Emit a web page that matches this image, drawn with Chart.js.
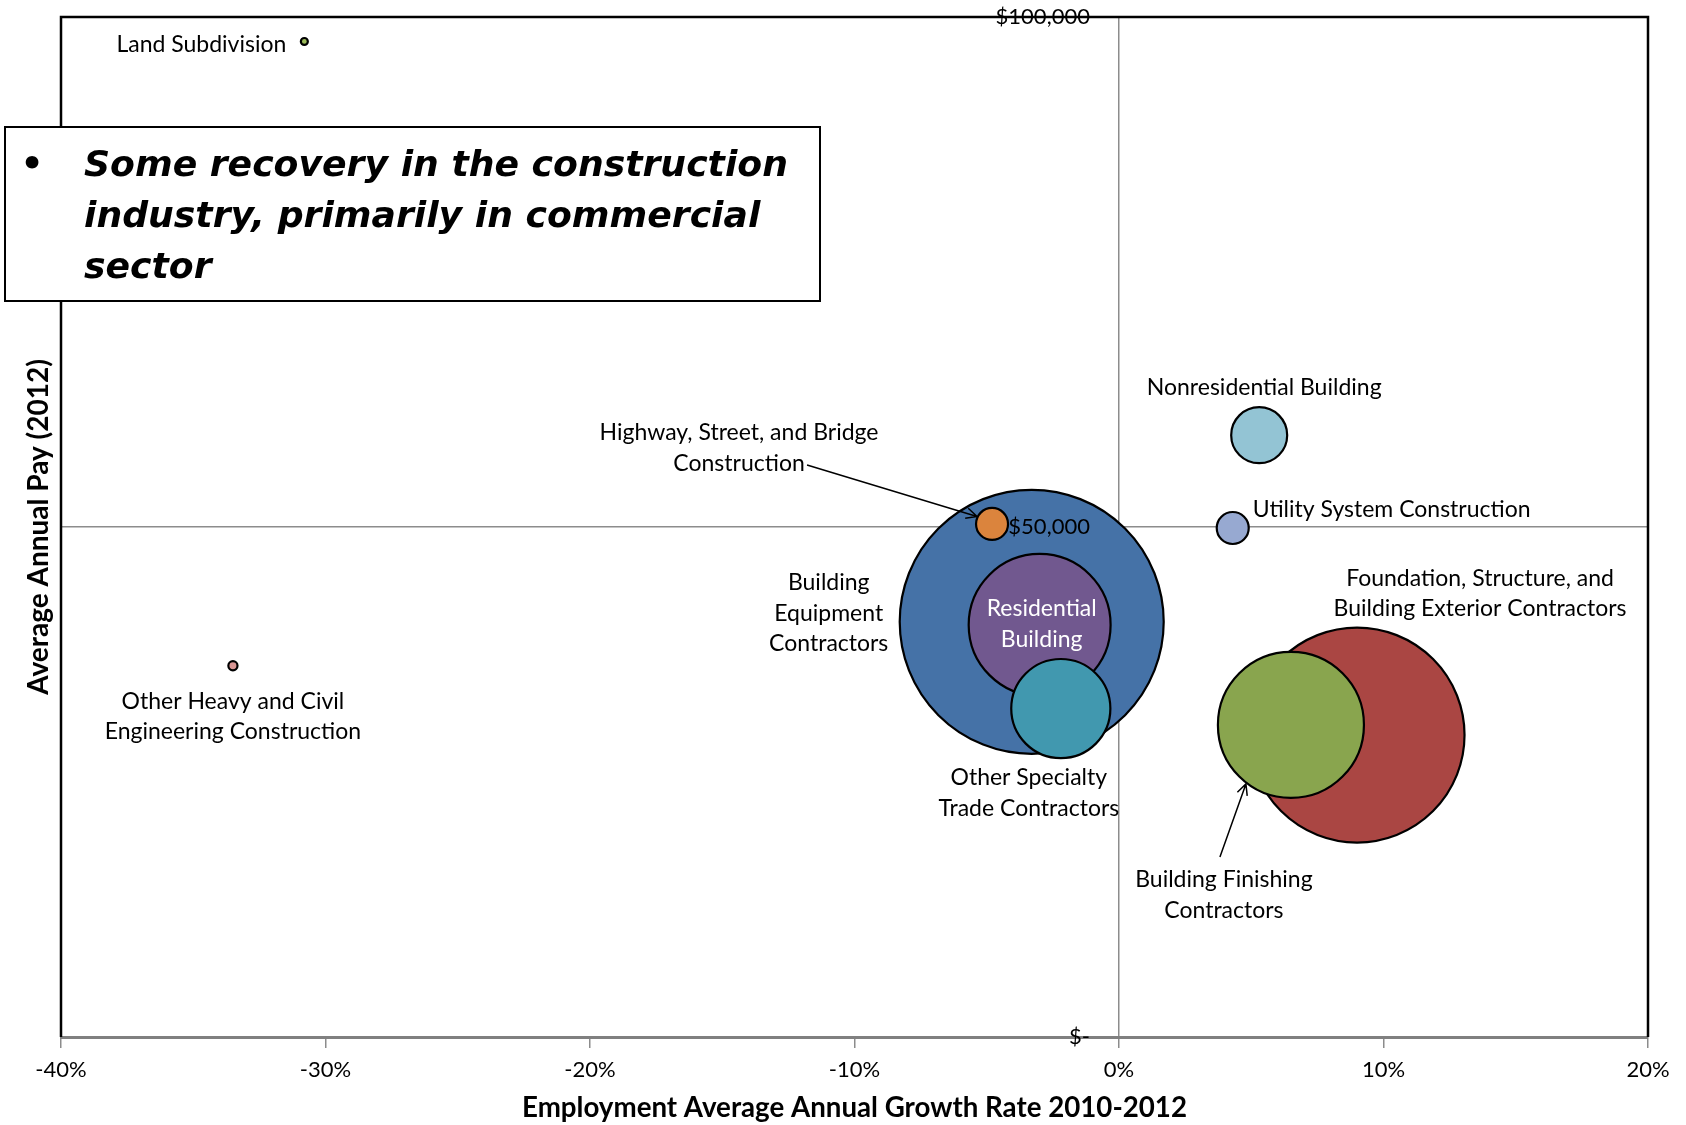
<!DOCTYPE html>
<html>
<head>
<meta charset="utf-8">
<script src="https://cdn.jsdelivr.net/npm/chart.js@4.4.1/dist/chart.umd.min.js"></script>
<style>
  html, body { margin: 0; padding: 0; background: #fff; }
  #wrap { width: 1686px; height: 1125px; }
</style>
</head>
<body>
<div id="wrap"><canvas id="chart" width="1686" height="1125"></canvas></div>
<script>
// Industries, in draw order (big bubbles first so the small ones sit on top)
const industries = [
  'Building Equipment Contractors',
  'Residential Building',
  'Other Specialty Trade Contractors',
  'Highway, Street, and Bridge Construction',
  'Foundation, Structure, and Building Exterior Contractors',
  'Building Finishing Contractors',
  'Nonresidential Building',
  'Utility System Construction',
  'Land Subdivision',
  'Other Heavy and Civil Engineering Construction'
];
// Employment average annual growth rate 2010-2012 (%)
const growthRate = [-3.3, -3.0, -2.2, -4.8, 9.0, 6.5, 5.3, 4.3, -30.8, -33.5];
// Average annual pay 2012 ($)
const avgPay = [40700, 40400, 32200, 50300, 29600, 30600, 59000, 49900, 97600, 36400];
// Employment (bubble size, relative)
const employment = [10000, 2890, 1410, 147, 6630, 3060, 450, 147, 7, 12];
const bubbleColors = ['#4572A7', '#71588F', '#4198AF', '#DB843D', '#AA4643',
                      '#89A54E', '#93C4D4', '#97A9D1', '#9BBB59', '#D99694'];

const xTicks = [-40, -30, -20, -10, 0, 10, 20];
const yTicks = [0, 50000, 100000];

const MAX_R = 132;
const maxEmp = Math.max(...employment);

// label placement, pixel offsets from bubble centre
const LINE_H = 30.6;
const labelLayout = [
  { lines: ['Building', 'Equipment', 'Contractors'], dx: -203, dy: -39 },
  { lines: ['Residential', 'Building'], dx: 2, dy: -16, color: '#fff' },
  { lines: ['Other Specialty', 'Trade Contractors'], dx: -32, dy: 69 },
  { lines: ['Highway, Street, and Bridge', 'Construction'], dx: -253, dy: -91,
    arrow: [-185, -59, -15, -7.5] },
  { lines: ['Foundation, Structure, and', 'Building Exterior Contractors'], dx: 123, dy: -157 },
  { lines: ['Building Finishing', 'Contractors'], dx: -67, dy: 155,
    arrow: [-71, 132, -45, 59] },
  { lines: ['Nonresidential Building'], dx: 5, dy: -48 },
  { lines: ['Utility System Construction'], dx: 20, dy: -18, align: 'left' },
  { lines: ['Land Subdivision'], dx: -18, dy: 3, align: 'right' },
  { lines: ['Other Heavy and Civil', 'Engineering Construction'], dx: 0, dy: 35.5 }
];

const calloutText = ['Some recovery in the construction', 'industry, primarily in commercial', 'sector'];

const LABEL_FONT = '23px Lato, "Open Sans", sans-serif';

function drawArrow(ctx, x1, y1, x2, y2) {
  const a = Math.atan2(y2 - y1, x2 - x1);
  const h = 12;
  ctx.beginPath();
  ctx.moveTo(x1, y1);
  ctx.lineTo(x2, y2);
  ctx.moveTo(x2 - h * Math.cos(a - 0.45), y2 - h * Math.sin(a - 0.45));
  ctx.lineTo(x2, y2);
  ctx.lineTo(x2 - h * Math.cos(a + 0.45), y2 - h * Math.sin(a + 0.45));
  ctx.stroke();
}

const annotations = {
  id: 'annotations',
  afterDatasetsDraw(chart) {
    const ctx = chart.ctx;
    const area = chart.chartArea;
    const pts = chart.getDatasetMeta(0).data;
    ctx.save();

    // plot area outline
    ctx.strokeStyle = '#000';
    ctx.lineWidth = 2.5;
    ctx.beginPath();
    ctx.moveTo(area.left, area.bottom);
    ctx.lineTo(area.left, area.top);
    ctx.lineTo(area.right, area.top);
    ctx.lineTo(area.right, area.bottom);
    ctx.stroke();

    // bubble labels
    ctx.font = LABEL_FONT;
    ctx.textBaseline = 'middle';
    labelLayout.forEach((L, i) => {
      const p = pts[i];
      ctx.fillStyle = L.color || '#000';
      ctx.textAlign = L.align || 'center';
      L.lines.forEach((t, k) => ctx.fillText(t, p.x + L.dx, p.y + L.dy + k * LINE_H));
      if (L.arrow) {
        ctx.strokeStyle = '#000';
        ctx.lineWidth = 1.5;
        drawArrow(ctx, p.x + L.arrow[0], p.y + L.arrow[1], p.x + L.arrow[2], p.y + L.arrow[3]);
      }
    });

    // callout box
    ctx.fillStyle = '#fff';
    ctx.fillRect(5, 127, 815, 174);
    ctx.strokeStyle = '#000';
    ctx.lineWidth = 2;
    ctx.strokeRect(5, 127, 815, 174);
    ctx.fillStyle = '#000';
    // fit the bold italic text to the box width of the original
    let size = 40;
    ctx.font = `italic bold ${size}px "DejaVu Sans", sans-serif`;
    size = size * 704 / ctx.measureText(calloutText[0]).width;
    ctx.font = `italic bold ${size}px "DejaVu Sans", sans-serif`;
    ctx.textAlign = 'center';
    ctx.fillText('\u2022', 32, 167);
    ctx.textAlign = 'left';
    calloutText.forEach((t, k) => ctx.fillText(t, 84, 167 + k * 51));
    ctx.restore();
  }
};

new Chart(document.getElementById('chart'), {
  type: 'bubble',
  data: {
    datasets: [{
      data: industries.map((_, i) => ({
        x: growthRate[i],
        y: avgPay[i],
        r: MAX_R * Math.sqrt(employment[i] / maxEmp)
      })),
      backgroundColor: bubbleColors,
      borderColor: '#000',
      borderWidth: 2.2
    }]
  },
  options: {
    responsive: false,
    animation: false,
    events: [],
    layout: { autoPadding: false, padding: { top: 17, right: 38, left: 0, bottom: 0 } },
    plugins: { legend: { display: false }, tooltip: { enabled: false } },
    scales: {
      x: {
        type: 'linear',
        position: 'bottom',
        min: -40,
        max: 20,
        afterBuildTicks: s => { s.ticks = xTicks.map(v => ({ value: v })); },
        afterFit: s => { s.height = 88; },
        ticks: {
          callback: v => v + '%',
          color: '#000',
          padding: 9,
          font: { family: 'Lato', size: 22 }
        },
        grid: {
          drawOnChartArea: true,
          drawTicks: true,
          tickLength: 11,
          color: c => (c.tick && c.tick.value === 0) ? '#8c8c8c' : 'rgba(0,0,0,0)',
          tickColor: '#8c8c8c',
          lineWidth: 1.5
        },
        border: { display: true, color: '#808080', width: 3 },
        title: {
          display: true,
          text: 'Employment Average Annual Growth Rate 2010-2012',
          color: '#000',
          padding: { top: 0, bottom: 0 },
          font: { family: 'Lato', size: 27.7, weight: 'bold' }
        }
      },
      y: {
        type: 'linear',
        // labels sit just left of the 0% line
        position: { x: -1.1 },
        min: 0,
        max: 100000,
        afterBuildTicks: s => { s.ticks = yTicks.map(v => ({ value: v })); },
        ticks: {
          z: 1,
          callback: v => v === 0 ? '$-' : '$' + v.toLocaleString('en-US'),
          color: '#000',
          font: { family: 'Lato', size: 22 }
        },
        grid: {
          drawTicks: false,
          color: c => (c.tick && c.tick.value === 50000) ? '#8c8c8c' : 'rgba(0,0,0,0)',
          lineWidth: 1.5
        },
        border: { display: false }
      },
      yTitle: {
        type: 'linear',
        position: 'left',
        min: 0,
        max: 100000,
        afterFit: s => { s.width = 61; },
        ticks: { display: false },
        grid: { display: false },
        border: { display: false },
        title: {
          display: true,
          text: 'Average Annual Pay (2012)',
          color: '#000',
          padding: { top: 22, bottom: 0 },
          font: { family: 'Lato', size: 28, weight: 'bold' }
        }
      }
    }
  },
  plugins: [annotations]
});
</script>
</body>
</html>
